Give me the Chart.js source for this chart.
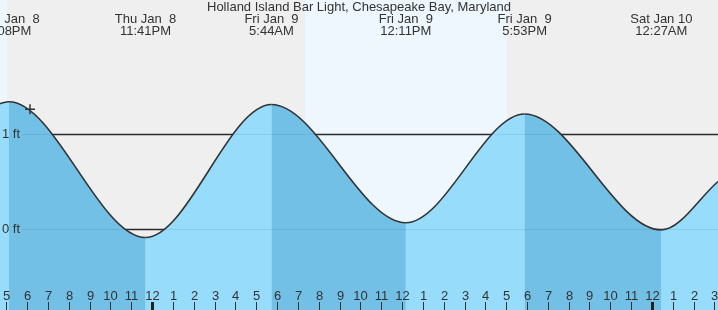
<!DOCTYPE html>
<html>
<head>
<meta charset="utf-8">
<script src="https://cdn.jsdelivr.net/npm/chart.js@4"></script>
<style>
    html, body { margin: 0; padding: 0; background: #efefef; }
    #wrap { width: 718px; height: 310px; }
</style>
</head>
<body>
<div id="wrap"><canvas id="tideChart" width="718" height="310"></canvas></div>
<script>
// Часы считаются от полуночи пятницы 9 января
const tideHours   = [-7.3, -6.87, -0.317, 5.733, 12.183, 17.883, 24.45, 27.17];
const tideHeights = [1.32, 1.34, -0.09, 1.31, 0.066, 1.21, -0.01, 0.50];

// Подписи приливов/отливов сверху
const eventHours = [-6.87, -0.317, 5.733, 12.183, 17.883, 24.45];
const eventDays  = ['Thu Jan  8', 'Thu Jan  8', 'Fri Jan  9', 'Fri Jan  9', 'Fri Jan  9', 'Sat Jan 10'];
const eventTimes = ['5:08PM', '11:41PM', '5:44AM', '12:11PM', '5:53PM', '12:27AM'];

// Светлое время суток
const dayStarts = [-7.3, 7.34];
const dayEnds   = [-6.96, 17.04];

// Текущий момент (крестик)
const nowHours   = [-5.86];
const nowHeights = [1.26];

const yTicks = [0, 1];
const yLabels = ['0 ft', '1 ft'];

const title = 'Holland Island Bar Light, Chesapeake Bay, Maryland';
const FONT = '13px "Liberation Sans", Arial, sans-serif';

const DARK_FILL = '#72c0e5';
const LIGHT_FILL = '#98dcfc';

function hourLabel(h) {
    const v = ((h % 12) + 12) % 12;
    return String(v === 0 ? 12 : v);
}

const backgroundPlugin = {
    id: 'tideBackground',
    beforeDraw(chart) {
        const { ctx, chartArea, scales } = chart;
        ctx.save();
        ctx.fillStyle = '#efefef';
        ctx.fillRect(0, 0, chart.width, chart.height);
        ctx.fillStyle = '#eef7fe';
        dayStarts.forEach((s, i) => {
            const x0 = scales.x.getPixelForValue(s);
            const x1 = scales.x.getPixelForValue(dayEnds[i]);
            ctx.fillRect(x0, chartArea.top, x1 - x0, chartArea.bottom - chartArea.top);
        });
        ctx.restore();
    },
    beforeDatasetsDraw(chart) {
        const { ctx, chartArea, scales } = chart;
        ctx.save();
        ctx.strokeStyle = '#2b2b2b';
        ctx.lineWidth = 1.3;
        yTicks.forEach(v => {
            const y = Math.round(scales.y.getPixelForValue(v)) + 0.5;
            ctx.beginPath();
            ctx.moveTo(chartArea.left, y);
            ctx.lineTo(chartArea.right, y);
            ctx.stroke();
        });
        ctx.restore();
    },
    afterDatasetsDraw(chart) {
        const { ctx, chartArea, scales } = chart;
        ctx.save();

        // Бледные линии поверх заливки
        ctx.strokeStyle = 'rgba(0, 40, 80, 0.09)';
        ctx.lineWidth = 1;
        yTicks.forEach(v => {
            const y = Math.round(scales.y.getPixelForValue(v)) + 0.5;
            ctx.beginPath();
            ctx.moveTo(22, y);
            ctx.lineTo(chartArea.right, y);
            ctx.stroke();
        });

        ctx.font = FONT;
        ctx.fillStyle = '#333';

        // Подписи оси Y
        ctx.textAlign = 'left';
        ctx.textBaseline = 'middle';
        yTicks.forEach((v, i) => {
            ctx.fillText(yLabels[i], 2, scales.y.getPixelForValue(v));
        });

        // Часовые засечки снизу
        const bottom = chartArea.bottom;
        ctx.textAlign = 'center';
        ctx.textBaseline = 'middle';
        for (let h = Math.ceil(scales.x.min); h <= Math.floor(scales.x.max); h++) {
            const x = Math.round(scales.x.getPixelForValue(h));
            const midnight = ((h % 24) + 24) % 24 === 0;
            ctx.fillStyle = midnight ? '#222' : '#333';
            if (midnight) {
                ctx.fillRect(x - 1, bottom - 8, 3, 8);
            } else {
                ctx.fillRect(x, bottom - 8, 1, 8);
            }
            ctx.fillStyle = '#333';
            ctx.fillText(hourLabel(h), x + 0.5, bottom - 14);
        }

        // Подписи событий сверху
        eventHours.forEach((h, i) => {
            const x = scales.x.getPixelForValue(h);
            ctx.fillText(eventDays[i], x, 19);
            ctx.fillText(eventTimes[i], x, 31);
        });

        // Заголовок
        ctx.fillText(title, (chartArea.left + chartArea.right) / 2, 7);
        ctx.restore();
    }
};

const tidePoints = tideHours.map((h, i) => ({ x: h, y: tideHeights[i] }));

new Chart(document.getElementById('tideChart'), {
    type: 'line',
    data: {
        datasets: [{
            // светлая заливка под всей кривой
            label: 'Tide fill',
            data: tidePoints,
            borderWidth: 0,
            borderColor: 'rgba(0,0,0,0)',
            pointRadius: 0,
            cubicInterpolationMode: 'monotone',
            fill: 'start',
            backgroundColor: LIGHT_FILL,
            order: 3
        }, {
            // тёмная заливка на отливе + сама кривая
            label: 'Tide',
            data: tidePoints,
            borderColor: '#333',
            borderWidth: 1.6,
            pointRadius: 0,
            cubicInterpolationMode: 'monotone',
            fill: 'start',
            backgroundColor: 'rgba(0,0,0,0)',
            segment: {
                backgroundColor: c => c.p1.parsed.y < c.p0.parsed.y ? DARK_FILL : 'rgba(0,0,0,0)'
            },
            order: 2
        }, {
            type: 'scatter',
            label: 'Now',
            data: nowHours.map((h, i) => ({ x: h, y: nowHeights[i] })),
            pointStyle: 'cross',
            pointRadius: 5,
            borderColor: '#333',
            borderWidth: 1.5,
            order: 1
        }]
    },
    options: {
        responsive: false,
        animation: false,
        devicePixelRatio: 1,
        layout: { padding: 0, autoPadding: false },
        plugins: {
            legend: { display: false },
            tooltip: { enabled: false },
            title: { display: false }
        },
        scales: {
            x: { type: 'linear', min: -7.3, max: 27.17, display: false },
            y: { min: -0.853, max: 2.411, display: false }
        }
    },
    plugins: [backgroundPlugin]
});
</script>
</body>
</html>
